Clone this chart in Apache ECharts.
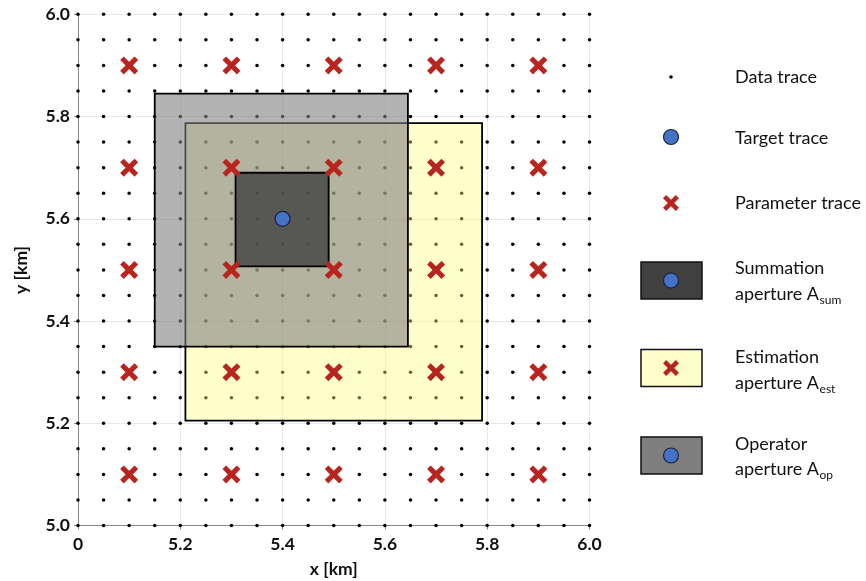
<!DOCTYPE html>
<html>
<head>
<meta charset="utf-8">
<script src="https://cdn.jsdelivr.net/npm/echarts@6/dist/echarts.min.js"></script>
<style>
html,body{margin:0;padding:0;background:#fff;}
#c{width:866px;height:581px;}
</style>
</head>
<body>
<div id="c"></div>
<script>
// ---- data ----
const dataTraceX = [5.00,5.05,5.10,5.15,5.20,5.25,5.30,5.35,5.40,5.45,5.50,5.55,5.60,5.65,5.70,5.75,5.80,5.85,5.90,5.95,6.00];
const dataTraceY = [5.00,5.05,5.10,5.15,5.20,5.25,5.30,5.35,5.40,5.45,5.50,5.55,5.60,5.65,5.70,5.75,5.80,5.85,5.90,5.95,6.00];
const paramTraceX = [5.1,5.3,5.5,5.7,5.9];
const paramTraceY = [5.1,5.3,5.5,5.7,5.9];
const targetTrace = [5.4, 5.6];
// apertures: [xMin, yMin, xMax, yMax]
const estAperture = [5.21, 5.205, 5.79, 5.787];
const opAperture = [5.15, 5.35, 5.645, 5.845];
const sumAperture = [5.308, 5.507, 5.49, 5.69];
const xTickLabels = ['0','5.2','5.4','5.6','5.8','6.0'];
const yTickLabels = ['5.0','5.2','5.4','5.6','5.8','6.0'];

// ---- build ----
const dataPts = [];
dataTraceX.forEach(x => dataTraceY.forEach(y => dataPts.push([x, y])));
const paramPts = [];
paramTraceX.forEach(x => paramTraceY.forEach(y => paramPts.push([x, y])));

const XPATH = 'path://M0,4 L4,0 L10,6 L16,0 L20,4 L14,10 L20,16 L16,20 L10,14 L4,20 L0,16 L6,10 Z';
const XPOLY = [[0,4],[4,0],[10,6],[16,0],[20,4],[14,10],[20,16],[16,20],[10,14],[4,20],[0,16],[6,10]];
const RED = '#b8251f';
const BLUE = '#4472c4';
const FONT = 'Lato, "Open Sans", sans-serif';
const LFS = 18;

const mctx = document.createElement('canvas').getContext('2d');
function measure(t, size) { mctx.font = size + 'px ' + FONT; return mctx.measureText(t).width; }

function rectSeries(name, rect, fill, z) {
  return {
    name, type: 'custom', z, silent: true,
    data: [rect],
    encode: { x: [0, 2], y: [1, 3] },
    renderItem: function (params, api) {
      const p0 = api.coord([api.value(0), api.value(3)]);
      const p1 = api.coord([api.value(2), api.value(1)]);
      return {
        type: 'rect',
        shape: { x: p0[0], y: p0[1], width: p1[0] - p0[0], height: p1[1] - p0[1] },
        style: { fill: fill, stroke: '#000', lineWidth: 1.8 }
      };
    }
  };
}

const chart = echarts.init(document.getElementById('c'), null, { renderer: 'canvas' });

function boxGraphic(y, fill) {
  return { type: 'rect', shape: { x: 641, y: y, width: 61, height: 37 }, style: { fill: fill, stroke: '#111', lineWidth: 1.5 } };
}
function circleG(cx, cy) {
  return { type: 'circle', shape: { cx: cx, cy: cy, r: 7.5 }, style: { fill: BLUE, stroke: '#1c2336', lineWidth: 1.2 } };
}
function crossG(cx, cy) {
  const s = 16 / 20;
  return { type: 'polygon', shape: { points: XPOLY.map(p => [cx - 8 + p[0] * s, cy - 8 + p[1] * s]) }, style: { fill: RED } };
}
function textG(x, y, text) {
  return { type: 'text', x: x, y: y, style: { text: text, verticalAlign: 'middle', align: 'left',
    fontFamily: FONT, fontSize: LFS, fill: '#111' } };
}
function subTextG(x, y, main, sub) {
  const w = measure(main, LFS);
  return { type: 'group', children: [
    { type: 'text', x: x, y: y, style: { text: main, verticalAlign: 'middle', align: 'left', fontFamily: FONT, fontSize: LFS, fill: '#111' } },
    { type: 'text', x: x + w + 0.5, y: y + 6, style: { text: sub, verticalAlign: 'middle', align: 'left', fontFamily: FONT, fontSize: 12, fill: '#111' } }
  ] };
}

const option = {
  backgroundColor: '#fff',
  animation: false,
  grid: { left: 78, right: 276.5, top: 14.3, bottom: 55.5, containLabel: false, outerBoundsMode: 'none' },
  xAxis: {
    type: 'value', min: 5.0, max: 6.0, interval: 0.2,
    name: 'x [km]', nameLocation: 'middle', nameGap: 35,
    nameTextStyle: { fontFamily: FONT, fontSize: 17.5, fontWeight: 'bold', color: '#111' },
    axisLine: { show: true, onZero: false, lineStyle: { color: '#888', width: 1 } },
    axisTick: { show: true, length: 4, lineStyle: { color: '#888' } },
    axisLabel: { fontFamily: FONT, fontSize: 17.5, fontWeight: 'bold', color: '#111', margin: 10,
      formatter: (v) => xTickLabels[Math.round((v - 5.0) / 0.2)] },
    splitLine: { show: true, lineStyle: { color: '#e8e8e8', width: 1 } }
  },
  yAxis: {
    type: 'value', min: 5.0, max: 6.0, interval: 0.2,
    name: 'y [km]', nameLocation: 'middle', nameGap: 48, nameRotate: 90,
    nameTextStyle: { fontFamily: FONT, fontSize: 17.5, fontWeight: 'bold', color: '#111' },
    axisLine: { show: true, onZero: false, lineStyle: { color: '#888', width: 1 } },
    axisTick: { show: true, length: 4, lineStyle: { color: '#888' } },
    axisLabel: { fontFamily: FONT, fontSize: 17.5, fontWeight: 'bold', color: '#111', margin: 8,
      formatter: (v) => yTickLabels[Math.round((v - 5.0) / 0.2)] },
    splitLine: { show: true, lineStyle: { color: '#e8e8e8', width: 1 } }
  },
  series: [
    { name: 'Data trace', type: 'scatter', z: 1, symbol: 'circle', symbolSize: 3.5,
      itemStyle: { color: '#000', opacity: 1 }, data: dataPts, silent: true },
    rectSeries('Estimation aperture', estAperture, 'rgba(255,255,128,0.4)', 2),
    rectSeries('Operator aperture', opAperture, 'rgba(128,128,128,0.6)', 3),
    rectSeries('Summation aperture', sumAperture, 'rgba(64,64,64,0.8)', 4),
    { name: 'Parameter trace', type: 'scatter', z: 5, symbol: XPATH, symbolSize: 18,
      itemStyle: { color: RED, opacity: 1 }, data: paramPts, silent: true },
    { name: 'Target trace', type: 'scatter', z: 6, symbol: 'circle', symbolSize: 15,
      itemStyle: { color: BLUE, borderColor: '#1c2336', borderWidth: 1.2, opacity: 1 }, data: [targetTrace], silent: true }
  ],
  graphic: [
    { type: 'circle', shape: { cx: 671, cy: 77, r: 1.8 }, style: { fill: '#000' } },
    textG(735, 77, 'Data trace'),
    circleG(671, 137),
    textG(735, 138, 'Target trace'),
    crossG(671, 203),
    textG(735, 203, 'Parameter trace'),
    boxGraphic(262, '#404040'),
    circleG(671, 280.5),
    textG(735, 268, 'Summation'),
    subTextG(735, 294, 'aperture A', 'sum'),
    boxGraphic(349.5, '#ffffcc'),
    crossG(671, 368),
    textG(735, 357, 'Estimation'),
    subTextG(735, 383, 'aperture A', 'est'),
    boxGraphic(437, '#7f7f7f'),
    circleG(671, 455.5),
    textG(735, 444, 'Operator'),
    subTextG(735, 469, 'aperture A', 'op')
  ]
};
chart.setOption(option);
</script>
</body>
</html>
